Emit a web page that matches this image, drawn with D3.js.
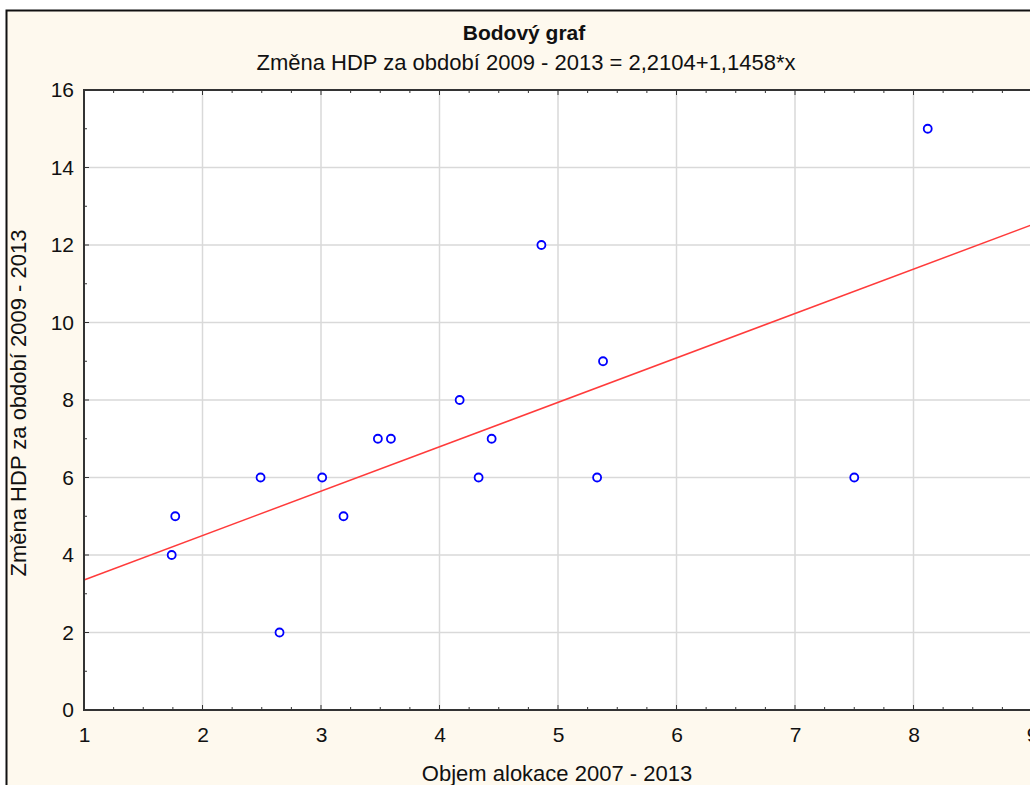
<!DOCTYPE html>
<html>
<head>
<meta charset="utf-8">
<style>
body { margin: 0; background: #fff; }
svg { display: block; font-family: "Liberation Sans", Arial, sans-serif; }
.grid line { stroke: #d9d9d9; stroke-width: 1.5px; }
.tick text { font-size: 21px; fill: #111; font-family: "Liberation Sans", Arial, sans-serif; }
</style>
<script src="https://d3js.org/d3.v7.min.js"></script>
</head>
<body>
<svg width="1030" height="785"></svg>
<script>

// allocation 2007-2013 vs GDP change 2009-2013
var alokace = [1.74, 1.77, 2.49, 2.65, 3.01, 3.19, 3.48, 3.59, 4.17, 4.33, 4.44, 4.86, 5.33, 5.38, 7.50, 8.12];
var zmenaHDP = [4, 5, 6, 2, 6, 5, 7, 7, 8, 6, 7, 12, 6, 9, 6, 15];
var intercept = 2.2104, slope = 1.1458;
var xTicks = [1, 2, 3, 4, 5, 6, 7, 8, 9];
var yTicks = [0, 2, 4, 6, 8, 10, 12, 14, 16];

var svg = d3.select("svg");

// outer frame
svg.append("rect")
    .attr("x", 6.5).attr("y", 10.5)
    .attr("width", 1040).attr("height", 800)
    .attr("fill", "#fef9ee")
    .attr("stroke", "#111").attr("stroke-width", 2);

var pLeft = 84, pTop = 90, pBottom = 710;
var x = d3.scaleLinear().domain([1, 9]).range([pLeft, pLeft + 8 * 118.5]);
var y = d3.scaleLinear().domain([0, 16]).range([pBottom, pTop]);

svg.append("rect")
    .attr("x", pLeft).attr("y", pTop)
    .attr("width", x(9) - pLeft).attr("height", pBottom - pTop)
    .attr("fill", "#fff");

var grid = svg.append("g").attr("class", "grid");
grid.selectAll(".vx").data(xTicks.slice(1, -1)).enter().append("line")
    .attr("x1", function(d) { return x(d); }).attr("x2", function(d) { return x(d); })
    .attr("y1", pTop).attr("y2", pBottom);
grid.selectAll(".hy").data(yTicks.slice(1, -1)).enter().append("line")
    .attr("x1", pLeft).attr("x2", x(9))
    .attr("y1", function(d) { return y(d); }).attr("y2", function(d) { return y(d); });

// minor ticks, pointing inward
var xMinor = d3.range(1, 9.001, 0.25);
var yMinor = d3.range(0, 16.001, 1);
var ticks = svg.append("g").attr("stroke", "#333").attr("stroke-width", 1);
ticks.selectAll(".mxb").data(xMinor).enter().append("line")
    .attr("x1", function(d) { return x(d); }).attr("x2", function(d) { return x(d); })
    .attr("y1", pBottom).attr("y2", function(d) { return Number.isInteger(d) ? pBottom - 5 : pBottom - 3; });
ticks.selectAll(".mxt").data(xMinor).enter().append("line")
    .attr("x1", function(d) { return x(d); }).attr("x2", function(d) { return x(d); })
    .attr("y1", pTop).attr("y2", function(d) { return Number.isInteger(d) ? pTop + 5 : pTop + 3; });
ticks.selectAll(".myl").data(yMinor).enter().append("line")
    .attr("y1", function(d) { return y(d); }).attr("y2", function(d) { return y(d); })
    .attr("x1", pLeft).attr("x2", function(d) { return d % 2 === 0 ? pLeft + 5 : pLeft + 3; });

// regression line
svg.append("line")
    .attr("x1", x(1)).attr("y1", y(intercept + slope * 1))
    .attr("x2", x(9)).attr("y2", y(intercept + slope * 9))
    .attr("stroke", "#ff3b3b").attr("stroke-width", 1.5);

// points
svg.selectAll(".pt").data(alokace).enter().append("circle")
    .attr("cx", function(d) { return x(d); })
    .attr("cy", function(d, i) { return y(zmenaHDP[i]); })
    .attr("r", 4)
    .attr("fill", "#fff")
    .attr("stroke", "#0000ff")
    .attr("stroke-width", 1.8);

// plot frame
svg.append("path")
    .attr("d", "M" + x(9) + "," + pTop + "H" + pLeft + "V" + pBottom + "H" + x(9))
    .attr("fill", "none").attr("stroke", "#333").attr("stroke-width", 2);

// axes labels
var xAxis = svg.append("g").attr("transform", "translate(0," + pBottom + ")")
    .call(d3.axisBottom(x).tickValues(xTicks).tickSize(0).tickPadding(17).tickFormat(d3.format("d")));
xAxis.select(".domain").remove();

var yAxis = svg.append("g").attr("transform", "translate(" + pLeft + ",0)")
    .call(d3.axisLeft(y).tickValues(yTicks).tickSize(0).tickPadding(10).tickFormat(d3.format("d")));
yAxis.select(".domain").remove();

svg.append("text")
    .attr("x", 524).attr("y", 40)
    .attr("text-anchor", "middle")
    .attr("font-size", 21).attr("font-weight", "bold").attr("fill", "#111")
    .text("Bodový graf");
svg.append("text")
    .attr("x", 526).attr("y", 70)
    .attr("text-anchor", "middle")
    .attr("font-size", 22).attr("fill", "#111")
    .text("Změna HDP za období 2009 - 2013 = 2,2104+1,1458*x");
svg.append("text")
    .attr("x", 557).attr("y", 781)
    .attr("text-anchor", "middle")
    .attr("font-size", 22).attr("fill", "#111")
    .text("Objem alokace 2007 - 2013");
svg.append("text")
    .attr("transform", "translate(26,403) rotate(-90)")
    .attr("text-anchor", "middle")
    .attr("font-size", 22).attr("fill", "#111")
    .text("Změna HDP za období 2009 - 2013");

</script>
</body>
</html>
